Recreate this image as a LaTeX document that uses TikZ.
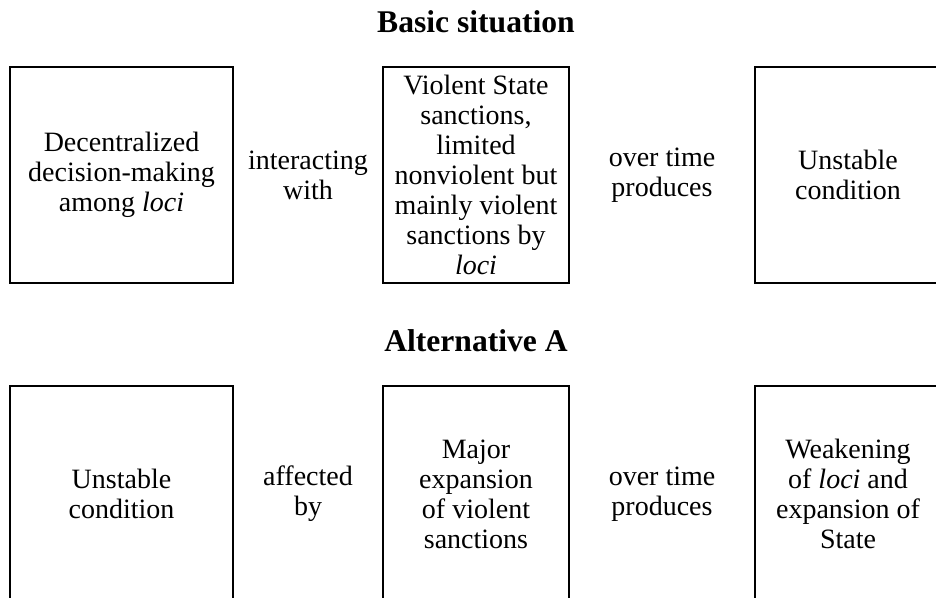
\documentclass[tikz,border=0pt]{standalone}
\usepackage{fontspec}
\setmainfont{Liberation Serif}

\begin{document}
\begin{tikzpicture}[x=0.5pt, y=-0.5pt,
    every node/.style={align=center, inner sep=0pt, font=\fontsize{14}{15}\selectfont},
    box/.style={draw, line width=1pt, minimum height=108pt},
    verb/.style={},
    heading/.style={font=\fontsize{15.8}{18}\selectfont\bfseries},
    ]
  \useasboundingbox (0,0) rectangle (936,598);
  \clip (0,0) rectangle (936,598);

  % basic situation
  \node[heading] (basic) at (476,22) {Basic situation};
  \node[box, minimum width=111.5pt] (decentral) at (121.5,175)
      {Decentralized\\decision-making\\among \textit{loci}};
  \node[verb] (interact) at (308,175) {interacting\\with};
  \node[box, minimum width=93pt] (sanctions) at (476,175)
      {Violent State\\sanctions,\\limited\\nonviolent but\\mainly violent\\sanctions by\\\textit{loci}};
  \node[verb] (produce) at (662,175) {over time\\produces};
  \node[box, minimum width=93pt] (unstable) at (848,175) {Unstable\\condition};

  % alternative A
  \node[heading] (altA) at (476,341) {Alternative A};
  \node[box, minimum width=111.5pt] (unstableA) at (121.5,494) {Unstable\\condition};
  \node[verb] (affect) at (308,494) {affected\\by};
  \node[box, minimum width=93pt] (major) at (476,494)
      {Major\\expansion\\of violent\\sanctions};
  \node[verb] (produceA) at (662,494) {over time\\produces};
  \node[box, minimum width=93pt] (weaken) at (848,494)
      {Weakening\\of \textit{loci} and\\expansion of\\State};
\end{tikzpicture}
\end{document}
